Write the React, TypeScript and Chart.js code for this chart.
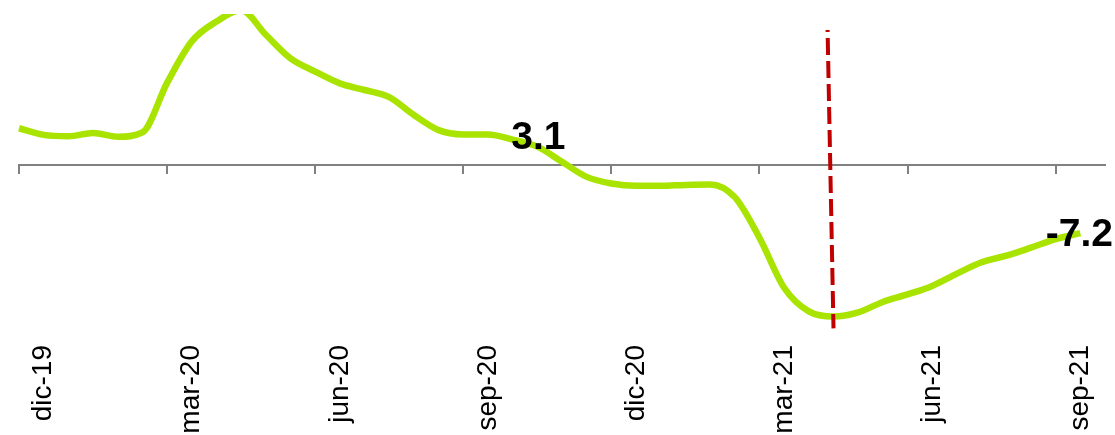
import React, { useEffect, useRef } from 'react';
import { Chart, registerables } from 'chart.js';

Chart.register(...registerables);

// x positions in months counted from the start of dic-19
const months = [
  0, 0.5, 1, 1.5, 2, 2.5, 3, 3.5, 4, 4.5, 5, 5.5, 6, 6.5, 7, 7.5, 8, 8.5, 9, 9.5, 10, 10.5,
  11, 11.5, 12, 12.5, 13, 13.5, 14, 14.5, 15, 15.5, 16, 16.5, 17, 17.5, 18, 18.5, 19, 19.5, 20, 20.5,
  21, 21.5,
];
const values = [
  3.9, 3.2, 3.05, 3.4, 3.0, 3.45, 8.7, 13.1, 15.2, 16.4, 13.8, 11.3, 9.9, 8.65, 7.95, 7.2, 5.3, 3.7,
  3.25, 3.25, 2.7, 1.95, 0.35, -1.25, -1.95, -2.2, -2.2, -2.1, -2.05, -3.4, -7.7, -13.0, -15.5,
  -16.05, -15.6, -14.5, -13.7, -12.8, -11.5, -10.3, -9.6, -8.75, -7.85, -7.2,
];
const tickLabels = ['dic-19', 'mar-20', 'jun-20', 'sep-20', 'dic-20', 'mar-21', 'jun-21', 'sep-21'];
const markerX = [16.38, 16.5];
const markerY = [14.3, -17.3];
const noteTexts = ['3.1', '-7.2'];
const noteX = [10.52, 21.5];
const noteY = [3.1, -7.2];

const X_MIN = 0;
const X_MAX = 22;
const Y_MIN = -18;
const Y_MAX = 16;
const FONT = "'Liberation Sans', Arial, Helvetica, sans-serif";

const notesPlugin = {
  id: 'notes',
  afterDatasetsDraw(chart: any) {
    const { ctx, scales } = chart;
    const xs = scales.x;
    const ys = scales.y;
    ctx.save();
    ctx.font = `bold 39px ${FONT}`;
    ctx.fillStyle = '#000000';
    ctx.textAlign = 'center';
    ctx.textBaseline = 'middle';
    noteTexts.forEach((t, i) => {
      let px = xs.getPixelForValue(noteX[i]);
      const py = ys.getPixelForValue(noteY[i]);
      const w = ctx.measureText(t).width;
      if (px + w / 2 > chart.width - 2) px = chart.width - 2 - w / 2;
      ctx.fillText(t, px, py + 2);
    });
    ctx.restore();
  },
};

const noPad = (s: any) => {
  s.paddingLeft = 0;
  s.paddingRight = 0;
};

export default function App() {
  const ref = useRef<HTMLCanvasElement | null>(null);

  useEffect(() => {
    if (!ref.current) return;
    const chart = new Chart(ref.current, {
      type: 'line',
      data: {
        datasets: [
          {
            label: 'marker',
            data: markerX.map((x, i) => ({ x, y: markerY[i] })),
            borderColor: '#C00000',
            borderWidth: 4,
            borderDash: [17, 6],
            borderDashOffset: 15,
            pointRadius: 0,
            tension: 0,
            fill: false,
            order: 0,
          },
          {
            label: 'serie',
            data: months.map((m, i) => ({ x: m, y: values[i] })),
            borderColor: '#A9E400',
            borderWidth: 6.5,
            pointRadius: 0,
            cubicInterpolationMode: 'monotone',
            fill: false,
            order: 1,
            clip: { left: 5, right: 5, top: 0, bottom: 5 },
          },
        ],
      },
      options: {
        animation: false,
        responsive: false,
        layout: { padding: { left: 19, right: 10, top: 14, bottom: 0 } },
        plugins: { legend: { display: false }, tooltip: { enabled: false } },
        scales: {
          x: {
            type: 'linear',
            position: 'bottom',
            min: X_MIN,
            max: X_MAX,
            afterBuildTicks: (s: any) => {
              s.ticks = tickLabels.map((_, i) => ({ value: i * 3 + 0.5 }));
            },
            afterFit: (s: any) => {
              s.height = 100;
              noPad(s);
            },
            ticks: {
              autoSkip: false,
              minRotation: 90,
              maxRotation: 90,
              padding: 10,
              color: '#000000',
              font: { family: FONT, size: 28 },
              callback: (_v: any, i: number) => tickLabels[i],
            },
            grid: { display: false, drawTicks: false },
            border: { display: false },
          },
          xz: {
            type: 'linear',
            axis: 'x',
            position: { y: 0 },
            min: X_MIN,
            max: X_MAX,
            afterBuildTicks: (s: any) => {
              s.ticks = tickLabels.map((_, i) => ({ value: i * 3 }));
            },
            afterFit: noPad,
            ticks: { display: false },
            grid: {
              drawOnChartArea: false,
              drawTicks: true,
              tickLength: 8,
              color: '#808080',
              lineWidth: 2,
            },
            border: { display: true, color: '#808080', width: 2 },
          },
          y: { type: 'linear', min: Y_MIN, max: Y_MAX, display: false },
        },
      } as any,
      plugins: [notesPlugin],
    });
    return () => chart.destroy();
  }, []);

  return (
    <div style={{ position: 'fixed', left: 0, top: 0, width: 1115, height: 435, background: '#ffffff' }}>
      <canvas ref={ref} width={1115} height={435} />
    </div>
  );
}
